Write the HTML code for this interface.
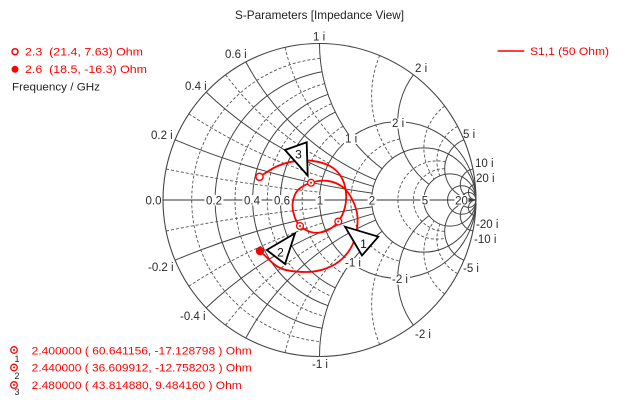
<!DOCTYPE html>
<html><head><meta charset="utf-8">
<style>
html,body{margin:0;padding:0;background:#fff;width:640px;height:400px;overflow:hidden;}
svg{display:block;overflow:hidden;}
text{font-family:"Liberation Sans",Arial,sans-serif;}
.s{fill:none;stroke:#444;stroke-width:1}
.d{fill:none;stroke:#555;stroke-width:0.9;stroke-dasharray:3 2}
.lb{font-size:11.5px;fill:#2a2a2a}
</style></head>
<body>
<svg width="640" height="400" viewBox="0 0 640 400" xmlns="http://www.w3.org/2000/svg">
<rect x="0" y="0" width="640" height="400" fill="#fff"/>

<!-- resistance circles (clipped arcs) -->
<g class="d">
 <path d="M320.2,58.4 A142.27,142.27 0 0 0 320.2,341.6"/>
 <path d="M324.7,83.6 A120.38,120.38 0 0 0 324.7,316.4"/>
 <path d="M331.5,103.7 A104.33,104.33 0 0 0 331.5,296.3"/>
 <path d="M343.1,126.2 A86.94,86.94 0 0 0 343.1,273.8"/>
 <path d="M399.7,138.9 A62.6,62.6 0 0 0 399.7,261.1"/>
 <path d="M445.5,161.8 A39.13,39.13 0 1 0 445.5,238.2"/>
 <path d="M444.7,168.7 A31.3,31.3 0 1 0 444.7,231.3"/>
</g>
<g class="s">
 <path d="M322.1,71.7 A130.42,130.42 0 0 0 322.1,328.3"/>
 <path d="M328.0,94.3 A111.79,111.79 0 0 0 328.0,305.7"/>
 <path d="M335.3,112.1 A97.81,97.81 0 0 0 335.3,287.9"/>
 <circle cx="397.75" cy="200" r="78.25"/>
 <circle cx="423.83" cy="200" r="52.17"/>
 <circle cx="449.92" cy="200" r="26.08"/>
 <circle cx="461.77" cy="200" r="14.23"/>
 <circle cx="468.55" cy="200" r="7.45"/>
</g>

<!-- reactance arcs -->
<g class="d">
 <path d="M166.1,169.0 A1565,1565 0 0 0 319.9,192.2"/>
 <path d="M188.8,113.8 A521.67,521.67 0 0 0 322.9,177.0"/>
 <path d="M225.6,74.8 A313,313 0 0 0 328.7,163.2"/>
 <path d="M285.1,47.3 A195.63,195.63 0 0 0 341.1,146.0"/>
 <path d="M166.1,231.0 A1565,1565 0 0 1 319.9,207.8"/>
 <path d="M188.8,286.2 A521.67,521.67 0 0 1 322.9,223.0"/>
 <path d="M225.6,325.2 A313,313 0 0 1 328.7,236.8"/>
 <path d="M285.1,352.7 A195.63,195.63 0 0 1 341.1,254.0"/>
 <path d="M379.7,55.5 A104.33,104.33 0 0 0 392.5,158.3"/>
 <path d="M379.7,344.5 A104.33,104.33 0 0 1 392.5,241.7"/>
 <path d="M444.7,106.1 A52.17,52.17 0 0 0 434.3,179.1"/>
 <path d="M444.7,293.9 A52.17,52.17 0 0 1 434.3,220.9"/>
 <path d="M457.6,126.35 A39.13,39.13 0 0 0 439.9,175.9"/>
 <path d="M457.6,273.65 A39.13,39.13 0 0 1 439.9,224.1"/>
</g>
<g class="s">
 <path d="M175.0,139.8 A782.5,782.5 0 0 0 372.1,193.1"/>
 <path d="M206.2,92.1 A391.25,391.25 0 0 0 373.5,186.3"/>
 <path d="M245.8,61.9 A260.83,260.83 0 0 0 375.7,179.9"/>
 <path d="M319.5,43.5 A156.5,156.5 0 0 0 382.1,168.7"/>
 <path d="M175.0,260.2 A782.5,782.5 0 0 1 372.1,206.9"/>
 <path d="M206.2,307.9 A391.25,391.25 0 0 1 373.5,213.7"/>
 <path d="M245.8,338.1 A260.83,260.83 0 0 1 375.7,220.1"/>
 <path d="M319.5,356.5 A156.5,156.5 0 0 1 382.1,231.3"/>
 <path d="M413.4,74.8 A78.25,78.25 0 0 0 429.05,184.35"/>
 <path d="M413.4,325.2 A78.25,78.25 0 0 1 429.05,215.65"/>
 <path d="M464.0,139.8 A31.3,31.3 0 0 0 476,200"/>
 <path d="M464.0,260.2 A31.3,31.3 0 0 1 476,200"/>
 <path d="M472.9,169.0 A15.65,15.65 0 0 0 476,200"/>
 <path d="M472.9,231.0 A15.65,15.65 0 0 1 476,200"/>
 <path d="M475.2,184.4 A7.83,7.83 0 0 0 476,200"/>
 <path d="M475.2,215.6 A7.83,7.83 0 0 1 476,200"/>
</g>

<!-- outer circle and axis -->
<circle cx="319.5" cy="200" r="156.5" fill="none" stroke="#444" stroke-width="1.1"/>
<line x1="163" y1="200" x2="476" y2="200" stroke="#333" stroke-width="1"/>

<!-- label backgrounds -->
<g fill="#fff">
 <rect x="204.5" y="195" width="19" height="10.5"/>
 <rect x="242.5" y="195" width="19" height="10.5"/>
 <rect x="272.5" y="195" width="19" height="10.5"/>
 <rect x="315.5" y="195" width="9" height="10.5"/>
 <rect x="367.5" y="195" width="9" height="10.5"/>
 <rect x="420.5" y="195" width="9" height="10.5"/>
 <rect x="454.5" y="195" width="14" height="10.5"/>
 <rect x="344" y="134" width="15" height="10"/>
 <rect x="391" y="118.5" width="15" height="10"/>
 <rect x="344" y="258" width="19" height="10"/>
 <rect x="391" y="274.5" width="19" height="10"/>
</g>
<g class="lb" text-anchor="middle">
 <text x="153.5" y="204.5">0.0</text>
 <text x="214" y="204.5">0.2</text>
 <text x="252" y="204.5">0.4</text>
 <text x="282" y="204.5">0.6</text>
 <text x="320" y="204.5">1</text>
 <text x="372" y="204.5">2</text>
 <text x="425" y="204.5">5</text>
 <text x="461.5" y="204.5">20</text>
</g>
<g class="lb">
 <text x="313" y="40.5">1 i</text>
 <text x="225" y="58">0.6 i</text>
 <text x="185" y="90">0.4 i</text>
 <text x="151" y="139">0.2 i</text>
 <text x="415" y="72">2 i</text>
 <text x="463" y="138">5 i</text>
 <text x="475" y="167">10 i</text>
 <text x="476" y="182">20 i</text>
 <text x="476" y="228">-20 i</text>
 <text x="474" y="243">-10 i</text>
 <text x="463" y="272">-5 i</text>
 <text x="415" y="338">-2 i</text>
 <text x="312" y="368">-1 i</text>
 <text x="180" y="320">-0.4 i</text>
 <text x="148" y="271">-0.2 i</text>
 <text x="345" y="142.5">1 i</text>
 <text x="392" y="127">2 i</text>
 <text x="345" y="266.5">-1 i</text>
 <text x="392" y="283">-2 i</text>
</g>

<!-- S11 curve -->
<path d="M259.5,176.8 C265.17,173.37 270.75,169.08 276.5,166.5 S288.08,162.25 294,161.3 S306,160.02 312,160.8 S325.17,163.38 330,166 S338.37,172.33 341,176.5 S345.13,185.92 345.8,191 S346.25,201.92 345,207 S341.3,217.58 338.3,221.5 S331.22,228.67 327,230.5 S317.5,233.25 313,232.5 S303.17,228.92 300,226 S295.2,219 294,215 S292.13,206.17 292.8,202 S294.97,193.22 298,190 S306.17,184.23 311,182.7 S321.83,180.17 327,180.8 S337.83,183.47 342,186.5 S349.42,193.92 352,199 S357.08,210.17 357.5,217 S356.92,233.17 354.5,240 S347.75,253.25 343,258 S332.17,266.25 326,268.5 S313.67,272.08 306,272 S287.67,271.5 280,268 S266.67,256.67 260,251" fill="none" stroke="#f00" stroke-width="1.8"/>

<!-- curve markers -->
<circle cx="259.5" cy="176.8" r="3.6" fill="#fff" stroke="#f00" stroke-width="1.5"/>
<circle cx="260" cy="251" r="4.2" fill="#f00"/>
<g fill="#fff" stroke="#f00" stroke-width="1.3">
 <circle cx="338.3" cy="221.5" r="3.4"/>
 <circle cx="300" cy="226" r="3.4"/>
 <circle cx="311" cy="182.7" r="3.4"/>
</g>
<g fill="#f00">
 <circle cx="338.3" cy="221.5" r="1"/>
 <circle cx="300" cy="226" r="1"/>
 <circle cx="311" cy="182.7" r="1"/>
</g>

<!-- triangle callouts -->
<g fill="#fff" stroke="#000" stroke-width="1.8" stroke-linejoin="miter">
 <polygon points="285,150 306.7,142.3 307.7,175.5"/>
 <polygon points="266.7,250 295,233.3 285,264"/>
 <polygon points="345,226.7 378.3,236.7 362,255.5"/>
</g>
<g font-size="12" fill="#111" text-anchor="middle">
 <text x="298.5" y="158.5">3</text>
 <text x="280.5" y="256.5">2</text>
 <text x="363.5" y="248">1</text>
</g>

<!-- title -->
<text x="319.5" y="19" font-size="12" fill="#222" text-anchor="middle" textLength="169" lengthAdjust="spacingAndGlyphs">S-Parameters [Impedance View]</text>

<!-- top-right legend -->
<line x1="497.7" y1="51" x2="524.3" y2="51" stroke="#f00" stroke-width="1.5"/>
<text x="530" y="55" font-size="11" fill="#f00" textLength="79" lengthAdjust="spacingAndGlyphs">S1,1 (50 Ohm)</text>

<!-- top-left legend -->
<circle cx="15" cy="51.7" r="3" fill="#fff" stroke="#f00" stroke-width="1.5"/>
<circle cx="15" cy="69.3" r="3.5" fill="#f00"/>
<text x="25" y="55.5" font-size="11" fill="#f00" style="white-space:pre" textLength="118" lengthAdjust="spacingAndGlyphs">2.3  (21.4, 7.63) Ohm</text>
<text x="25" y="73" font-size="11" fill="#f00" style="white-space:pre" textLength="122" lengthAdjust="spacingAndGlyphs">2.6  (18.5, -16.3) Ohm</text>
<text x="12" y="90.5" font-size="11" fill="#222" textLength="88" lengthAdjust="spacingAndGlyphs">Frequency / GHz</text>

<!-- bottom legend -->
<g fill="#fff" stroke="#f00" stroke-width="1.3">
 <circle cx="14" cy="350" r="3.3"/>
 <circle cx="14" cy="367.5" r="3.3"/>
 <circle cx="14" cy="385" r="3.3"/>
</g>
<g fill="#f00">
 <circle cx="14" cy="350" r="1"/>
 <circle cx="14" cy="367.5" r="1"/>
 <circle cx="14" cy="385" r="1"/>
</g>
<g font-size="9" fill="#222">
 <text x="14.5" y="362">1</text>
 <text x="14.5" y="379">2</text>
 <text x="14.5" y="395">3</text>
</g>
<g font-size="11" fill="#f00">
 <text x="31.7" y="354.5" textLength="220" lengthAdjust="spacingAndGlyphs">2.400000 ( 60.641156, -17.128798 ) Ohm</text>
 <text x="31.7" y="371.5" textLength="220" lengthAdjust="spacingAndGlyphs">2.440000 ( 36.609912, -12.758203 ) Ohm</text>
 <text x="31.7" y="389" textLength="210" lengthAdjust="spacingAndGlyphs">2.480000 ( 43.814880, 9.484160 ) Ohm</text>
</g>
</svg>
</body></html>
